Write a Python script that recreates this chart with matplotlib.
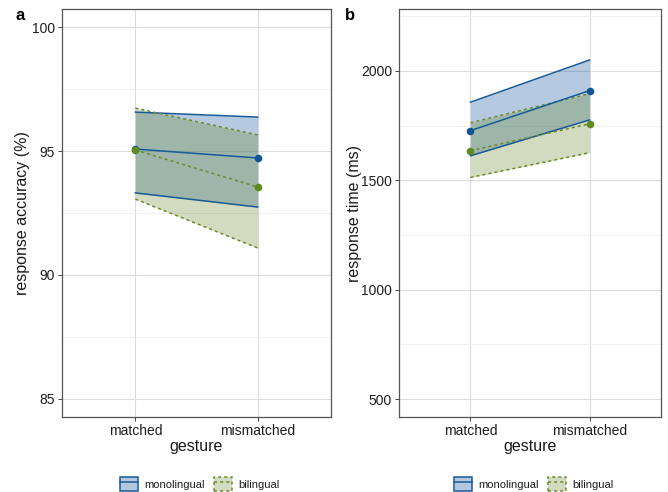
import matplotlib
matplotlib.use("Agg")
import matplotlib.pyplot as plt
from matplotlib.patches import Patch
from matplotlib.lines import Line2D
import numpy as np

plt.rcParams['font.family'] = ['Liberation Sans', 'DejaVu Sans']

categories = ["matched", "mismatched"]
groups = ["monolingual", "bilingual"]

# Panel a: response accuracy (%)
acc_mean = {"monolingual": [95.08, 94.72], "bilingual": [95.04, 93.55]}
acc_low = {"monolingual": [93.31, 92.74], "bilingual": [93.06, 91.09]}
acc_high = {"monolingual": [96.57, 96.37], "bilingual": [96.73, 95.65]}

# Panel b: response time (ms)
rt_mean = {"monolingual": [1727, 1910], "bilingual": [1635, 1758]}
rt_low = {"monolingual": [1612, 1776], "bilingual": [1513, 1626]}
rt_high = {"monolingual": [1857, 2050], "bilingual": [1763, 1896]}

line_col = {"monolingual": "#175a98", "bilingual": "#6b8a2a"}
fill_col = {"monolingual": "#0a4e9a", "bilingual": "#6c8a2d"}
key_fill = {"monolingual": "#b4c9e0", "bilingual": "#d3dcc0"}
pt_col = {"monolingual": "#0d5596", "bilingual": "#5f8a22"}
ls = {"monolingual": "-", "bilingual": (0, (2, 2))}

W, H = 668, 492
fig = plt.figure(figsize=(W / 100, H / 100), dpi=100)

def px_axes(l, t, r, b):
    return fig.add_axes([l / W, 1 - b / H, (r - l) / W, (b - t) / H])

def draw(ax, mean, low, high, ylim, major, minor, ylabel, leg_x, ylab_x):
    x = np.arange(1, len(categories) + 1)
    for g in groups:
        ax.fill_between(x, low[g], high[g], color=fill_col[g], alpha=0.3, lw=0, zorder=2)
        ax.plot(x, low[g], color=line_col[g], ls=ls[g], lw=1.1, zorder=3)
        ax.plot(x, high[g], color=line_col[g], ls=ls[g], lw=1.1, zorder=3)
        ax.plot(x, mean[g], color=line_col[g], ls=ls[g], lw=1.1, zorder=4)
        ax.scatter(x, mean[g], color=pt_col[g], s=30, zorder=5, linewidths=0)
    ax.set_xlim(0.4, 2.6)
    ax.set_ylim(*ylim)
    ax.set_xticks(x)
    ax.set_xticklabels(categories)
    ax.set_yticks(major)
    ax.set_yticks(minor, minor=True)
    ax.grid(True, which='major', color='#dcdcdc', lw=0.8, zorder=0)
    ax.grid(True, which='minor', axis='y', color='#efefef', lw=0.6, zorder=0)
    ax.set_axisbelow(True)
    ax.tick_params(axis='both', which='major', labelsize=10, length=3, color='#444444',
                   labelcolor='#1e1e1e', width=0.7, pad=2)
    ax.tick_params(axis='y', which='minor', length=0)
    for s in ax.spines.values():
        s.set_color('#555555')
        s.set_linewidth(0.9)
    ax.set_xlabel("gesture", fontsize=11.5, labelpad=1, color='#1a1a1a')
    ax.set_ylabel(ylabel, fontsize=11.5, color='#1a1a1a', va='center')
    ax.yaxis.set_label_coords(ylab_x, 0.5)
    handles = []
    for g in groups:
        p = Patch(facecolor=key_fill[g], edgecolor=line_col[g],
                  linestyle='-' if g == 'monolingual' else (0, (2, 2)), linewidth=1.1)
        ln = Line2D([], [], color=line_col[g], ls=ls[g], lw=1.1)
        handles.append((p, ln))
    ax.legend(handles, groups, loc='center', ncol=2, frameon=False, fontsize=8,
              bbox_to_anchor=(leg_x / W, 1 - 484 / H), bbox_transform=fig.transFigure,
              handlelength=1.6, handleheight=1.6, columnspacing=0.8, handletextpad=0.6,
              labelcolor='#1e1e1e')

axa = px_axes(62, 9, 331, 417)
draw(axa, acc_mean, acc_low, acc_high, (84.27, 100.73), [85, 90, 95, 100], [87.5, 92.5, 97.5],
     "response accuracy (%)", 200, (23 - 62) / 269)
axb = px_axes(399, 9, 661, 417)
draw(axb, rt_mean, rt_low, rt_high, (418, 2283), [500, 1000, 1500, 2000], [750, 1250, 1750, 2250],
     "response time (ms)", 534, (355 - 399) / 262)

fig.text(15 / W, 1 - 15 / H, "a", fontsize=12, fontweight='bold', ha='left', va='center')
fig.text(345 / W, 1 - 15 / H, "b", fontsize=12, fontweight='bold', ha='left', va='center')

fig.savefig("out.png", dpi=100)
